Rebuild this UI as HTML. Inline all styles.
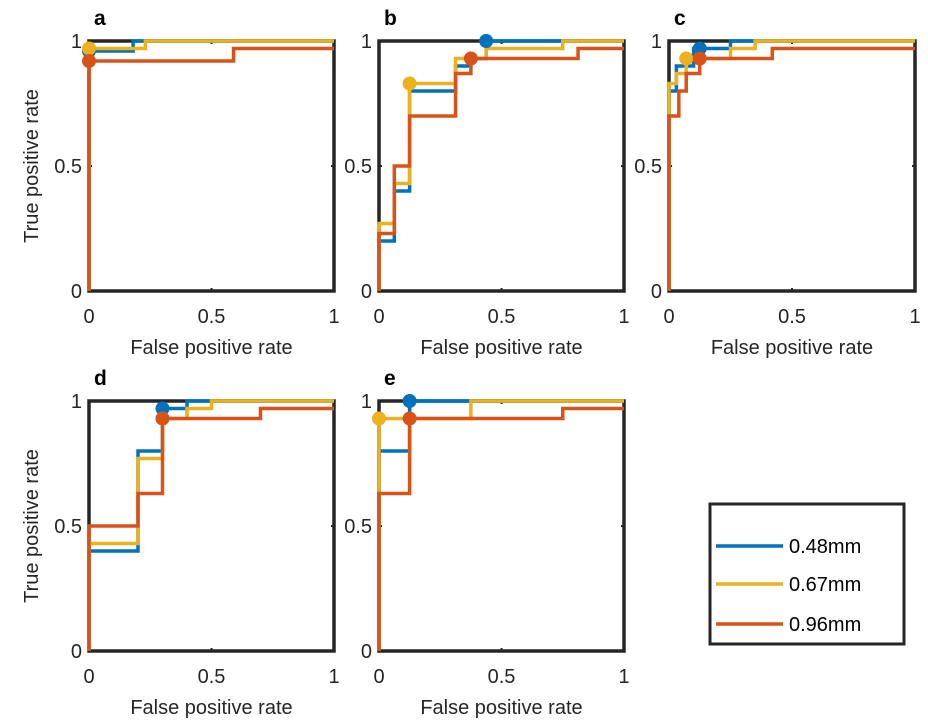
<!DOCTYPE html>
<html><head><meta charset="utf-8">
<style>
body{margin:0;background:#fff;}
svg{display:block;font-family:"Liberation Sans",Arial,sans-serif;}
</style></head>
<body>
<svg id="fig" width="928" height="724" viewBox="0 0 928 724" xmlns="http://www.w3.org/2000/svg">
<g id="legend">
 <rect x="710" y="504" width="194" height="140" fill="#fff" stroke="#262626" stroke-width="3"/>
 <g><line x1="716" y1="546" x2="783" y2="546" stroke="#0072BD" stroke-width="3.5"/><text x="789" y="553" font-size="20">0.48mm</text></g>
 <g><line x1="716" y1="584" x2="783" y2="584" stroke="#EDB120" stroke-width="3.5"/><text x="789" y="591" font-size="20">0.67mm</text></g>
 <g><line x1="716" y1="624" x2="783" y2="624" stroke="#D95319" stroke-width="3.5"/><text x="789" y="631" font-size="20">0.96mm</text></g>
</g>
</svg>
<script>
const panelLabels = ["a","b","c","d","e"];
const seriesNames = ["0.48mm","0.67mm","0.96mm"];
const colors = ["#0072BD","#EDB120","#D95319"];
const xTicks = [0,0.5,1];
const yTicks = [0,0.5,1];
const xTickLabels = ["0","0.5","1"];
const yTickLabels = ["0","0.5","1"];
const fprA = [[0,0,0.18,0.18,1],[0,0,0.23,0.23,1],[0,0,0.59,0.59,1]];
const tprA = [[0,0.96,0.96,1,1],[0,0.97,0.97,1,1],[0,0.92,0.92,0.97,0.97]];
const fprB = [[0,0,0.0625,0.0625,0.125,0.125,0.3125,0.3125,0.375,0.375,0.4375,0.4375,1],
              [0,0,0.0625,0.0625,0.125,0.125,0.3125,0.3125,0.4375,0.4375,0.75,0.75,1],
              [0,0,0.0625,0.0625,0.125,0.125,0.3125,0.3125,0.375,0.375,0.8125,0.8125,1]];
const tprB = [[0,0.2,0.2,0.4,0.4,0.8,0.8,0.9,0.9,0.93,0.93,1,1],
              [0,0.27,0.27,0.43,0.43,0.83,0.83,0.93,0.93,0.97,0.97,1,1],
              [0,0.23,0.23,0.5,0.5,0.7,0.7,0.87,0.87,0.93,0.93,0.97,0.97]];
const fprC = [[0,0,0.03,0.03,0.1,0.1,0.25,0.25,1],
              [0,0,0.03,0.03,0.07,0.07,0.25,0.25,0.35,0.35,1],
              [0,0,0.04,0.04,0.07,0.07,0.125,0.125,0.42,0.42,1]];
const tprC = [[0,0.8,0.8,0.9,0.9,0.97,0.97,1,1],
              [0,0.83,0.83,0.87,0.87,0.93,0.93,0.97,0.97,1,1],
              [0,0.7,0.7,0.8,0.8,0.87,0.87,0.93,0.93,0.97,0.97]];
const fprD = [[0,0,0.2,0.2,0.3,0.3,0.4,0.4,1],
              [0,0,0.2,0.2,0.3,0.3,0.4,0.4,0.5,0.5,1],
              [0,0,0.2,0.2,0.3,0.3,0.7,0.7,1]];
const tprD = [[0,0.4,0.4,0.8,0.8,0.97,0.97,1,1],
              [0,0.43,0.43,0.77,0.77,0.93,0.93,0.97,0.97,1,1],
              [0,0.5,0.5,0.63,0.63,0.93,0.93,0.97,0.97]];
const fprE = [[0,0,0.125,0.125,1],
              [0,0,0.375,0.375,1],
              [0,0,0.125,0.125,0.75,0.75,1]];
const tprE = [[0,0.8,0.8,1,1],
              [0,0.93,0.93,1,1],
              [0,0.63,0.63,0.93,0.93,0.97,0.97]];
const dotFpr = [[0,0,0],[0.4375,0.125,0.375],[0.125,0.07,0.125],[0.3,0.3,0.3],[0.125,0,0.125]];
const dotTpr = [[0.96,0.97,0.92],[1,0.83,0.93],[0.97,0.93,0.93],[0.97,0.93,0.93],[1,0.93,0.93]];

const allFpr=[fprA,fprB,fprC,fprD,fprE], allTpr=[tprA,tprB,tprC,tprD,tprE];
const boxes=[[89,334,41,291],[379,624,41,291],[669,915,41,291],[89,334,401,651],[379,624,401,651]];
const NS="http://www.w3.org/2000/svg";
const svg=document.getElementById('fig');
function mk(tag,attrs,parent){const e=document.createElementNS(NS,tag);for(const k in attrs)e.setAttribute(k,attrs[k]);(parent||svg).appendChild(e);return e;}
boxes.forEach((b,p)=>{
  const [x0,x1,y0,y1]=b;
  const sx=v=>x0+v*(x1-x0), sy=v=>y1-v*(y1-y0);
  const g=mk('g',{});
  
  
  const box=mk('rect',{x:x0,y:y0,width:x1-x0,height:y1-y0,fill:'none',stroke:'#262626','stroke-width':3.5},g);
  
  
  xTicks.forEach((t,i)=>{
    mk('line',{x1:sx(t),x2:sx(t),y1:y1,y2:y1-3,stroke:'#262626','stroke-width':2},g);
    mk('line',{x1:sx(t),x2:sx(t),y1:y0,y2:y0+3,stroke:'#262626','stroke-width':2},g);
    const tx=mk('text',{x:sx(t),y:y1+32,'font-size':20,'text-anchor':'middle',fill:'#262626'},g);
    tx.textContent=xTickLabels[i];
    
    
  });
  yTicks.forEach((t,i)=>{
    mk('line',{x1:x0,x2:x0+3,y1:sy(t),y2:sy(t),stroke:'#262626','stroke-width':2},g);
    mk('line',{x1:x1,x2:x1-3,y1:sy(t),y2:sy(t),stroke:'#262626','stroke-width':2},g);
    const ty=mk('text',{x:x0-7,y:sy(t)+7,'font-size':20,'text-anchor':'end',fill:'#262626'},g);
    ty.textContent=yTickLabels[i];
    
    
  });
  const xl=mk('text',{x:(x0+x1)/2,y:y1+63,'font-size':20,'text-anchor':'middle',fill:'#262626'},g);
  xl.textContent='False positive rate';
  
  
  if(p===0||p===3){
    const yl=mk('text',{x:0,y:0,'font-size':20,'text-anchor':'middle',fill:'#262626',transform:`translate(38,${(y0+y1)/2}) rotate(-90)`},g);
    yl.textContent='True positive rate';
    
    
  }
  const pl=mk('text',{x:x0+5,y:y0-16,'font-size':21,'font-weight':'bold',fill:'#000'},g);
  pl.textContent=panelLabels[p];
  
  
  for(let s=0;s<3;s++){
    const pts=allFpr[p][s].map((f,i)=>sx(f)+','+sy(allTpr[p][s][i])).join(' ');
    const pl2=mk('polyline',{points:pts,fill:'none',stroke:colors[s],'stroke-width':3.5},g);
    
    
  }
  for(let s=0;s<3;s++){
    const c=mk('circle',{cx:sx(dotFpr[p][s]),cy:sy(dotTpr[p][s]),r:7,fill:colors[s]},g);
    
    
  }
});
svg.appendChild(document.getElementById('legend'));
</script>
</body></html>
